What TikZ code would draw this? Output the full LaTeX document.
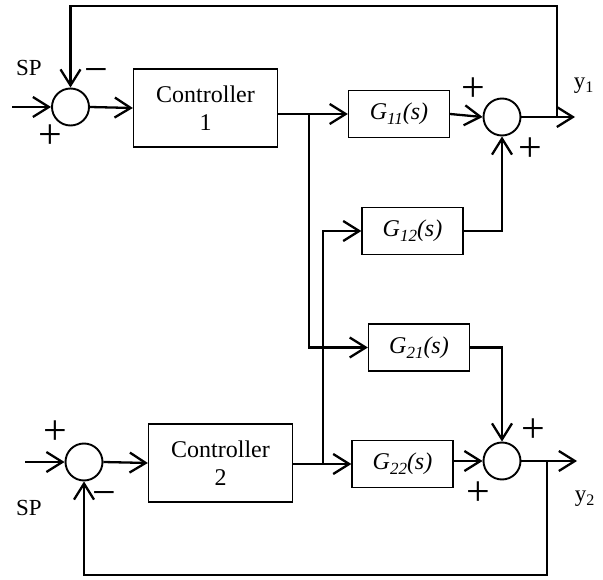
\documentclass[tikz,border=0pt]{standalone}
\usepackage{fontspec}
\setmainfont{Liberation Serif}
\usetikzlibrary{arrows.meta}
\newcommand{\gsub}[1]{\raisebox{-5pt}{\fontsize{17}{17}\selectfont #1}}
\begin{document}
\begin{tikzpicture}[x=1pt,y=-1pt,
  blk/.style={draw, line width=1.3pt, inner sep=0pt},
  ctl/.style={blk, minimum width=144pt, minimum height=78pt, align=center, font=\fontsize{24}{28}\selectfont},
  gblk/.style={blk, minimum width=101pt, minimum height=47pt, font=\fontsize{24}{26}\selectfont\itshape},
  sumc/.style={circle, draw, line width=1.9pt, minimum size=37pt, inner sep=0pt},
  wire/.style={line width=2.3pt},
  arr/.style={wire, -{Straight Barb[length=16pt,width=20pt]}},
  sgn/.style={inner sep=0pt, font=\fontsize{42}{42}\selectfont},
  lbl/.style={inner sep=0pt, font=\fontsize{23}{26}\selectfont},
]
\useasboundingbox (0,0) rectangle (603,580);

% blocks
\node[sumc] (s1) at (70.5,107) {};
\node[ctl] (c1) at (205.5,108) {Controller\\1};
\node[gblk] (g11) at (399,114) {G\gsub{11}(s)};
\node[gblk] (g12) at (412.5,231) {G\gsub{12}(s)};
\node[gblk] (g21) at (419,347.5) {G\gsub{21}(s)};
\node[gblk] (g22) at (402.5,464) {G\gsub{22}(s)};
\node[ctl] (c2) at (220.5,463) {Controller\\2};
\node[sumc] (s2) at (84,462) {};
\node[sumc] (sum1) at (502,117) {};
\node[sumc] (sum2) at (502,461) {};

% coordinates
\coordinate (in1) at (12,107);
\coordinate (in2) at (25,462);
\coordinate (j1) at (309,114);
\coordinate (j2) at (323,464);
\coordinate (o1) at (575,117);
\coordinate (f1) at (557,117);
\coordinate (t1) at (70.5,6);
\coordinate (o2) at (577,461);
\coordinate (f2) at (547,461);
\coordinate (b2) at (84,575);

% connectors
\draw[arr] (in1) -- (s1.west);
\draw[arr] (s1.east) -- (c1.west);
\draw[arr] (c1.east |- g11) -- (g11.west);
\draw[arr] (j1) |- (g21.west);
\draw[arr] (in2) -- (s2.west);
\draw[arr] (s2.east) -- (c2.west);
\draw[arr] (c2.east |- g22) -- (g22.west);
\draw[arr] (j2) |- (g12.west);
\draw[arr] (g11.east) -- (sum1.west);
\draw[arr] (g12.east) -| (sum1.south);
\draw[arr] (g21.east) -| (sum2.north);
\draw[arr] (g22.east |- sum2) -- (sum2.west);
\draw[arr] (sum1.east) -- (o1);
\draw[arr] (f1) |- (t1) -- (s1.north);
\draw[arr] (sum2.east) -- (o2);
\draw[arr] (f2) |- (b2) -- (s2.south);

% signs
\node[sgn] (p1) at (50,137) {+};
\node[sgn] (m1) at (96,76) {−};
\node[sgn] (p2) at (473,90) {+};
\node[sgn] (p3) at (530,150) {+};
\node[sgn] (p4) at (533,431) {+};
\node[sgn] (p5) at (478,494) {+};
\node[sgn] (p6) at (55,433) {+};
\node[sgn] (m2) at (104,499) {−};

% labels
\node[lbl] (sp1) at (29,68) {SP};
\node[lbl] (sp2) at (29,508) {SP};
\node[lbl] (y1) at (584,86) {y\textsubscript{1}};
\node[lbl] (y2) at (585,499) {y\textsubscript{2}};
\end{tikzpicture}
\end{document}
